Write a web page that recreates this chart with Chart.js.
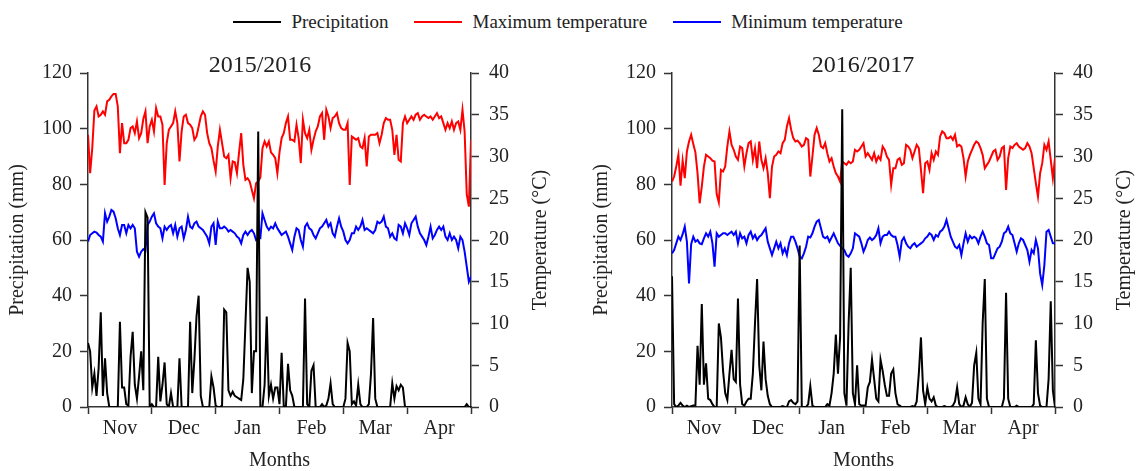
<!DOCTYPE html>
<html>
<head>
<meta charset="utf-8">
<title>Precipitation and temperature, 2015/2016 and 2016/2017</title>
<script src="https://cdn.jsdelivr.net/npm/chart.js@4.4.1/dist/chart.umd.min.js"></script>
<style>
  html, body { margin: 0; padding: 0; background: #fff; }
  body { width: 1136px; height: 471px; position: relative; overflow: hidden;
         font-family: "Liberation Serif", "Times New Roman", serif; color: #222; }
  #legend { position: absolute; top: 10px; left: 0; width: 1136px; display: flex;
            justify-content: center; align-items: center; font-size: 19px; line-height: 24px; }
  .item { display: flex; align-items: center; margin: 0 13px; }
  .swatch { width: 48px; height: 2px; margin-right: 10px; }
  .panel { position: absolute; top: 40px; height: 431px; }
  #p1 { left: 0; width: 580px; }
  #p2 { left: 584px; width: 552px; }
</style>
</head>
<body>
<div id="legend"></div>
<div class="panel" id="p1"><canvas id="c1"></canvas></div>
<div class="panel" id="p2"><canvas id="c2"></canvas></div>
<script>
// daily values, 1 Nov .. 30 Apr (month ticks drawn every 30 days)
const months = ['Nov', 'Dec', 'Jan', 'Feb', 'Mar', 'Apr'];
const daysPerMonth = 30;
const seriesNames = ['Precipitation', 'Maximum temperature', 'Minimum temperature'];
const seriesColors = ['#000000', '#ff0000', '#0000ff'];

// 2015/2016
const rain2015 = [
  23, 20, 7, 12, 4, 14, 34, 4, 17.5, 5,
  0, 0, 0, 0, 0, 30.6, 7, 7, 1, 0.5,
  18, 27, 8, 3, 11, 20, 6, 70, 68, 0,
  1, 0, 0, 18, 2, 8, 16, 1, 0, 5,
  0, 0, 0, 17.5, 0, 0, 0, 0, 30.6, 5,
  17, 32.5, 40, 4, 0, 0, 0, 0, 11, 7,
  0.5, 0, 0, 0.5, 35, 34, 6, 4, 5.5, 4,
  3.5, 3, 2.5, 10, 30, 50, 45, 5, 20, 20,
  99, 0, 0, 8, 32.5, 4, 8, 3, 7, 7,
  1, 19.5, 0.5, 0, 15.5, 6, 4, 0, 0, 0,
  0, 0, 39, 1, 0, 13, 15, 0, 0, 0,
  1, 0, 0.5, 3, 8.5, 1, 0, 0, 0, 0,
  0, 3, 23, 20, 1, 2, 0.5, 8, 1, 0,
  0, 0, 1, 12, 32, 3, 0, 0, 0, 0,
  0, 0, 0, 8.5, 3, 7.5, 6, 8, 7, 0,
  0, 0, 0, 0, 0, 0, 0, 0, 0, 0,
  0, 0, 0, 0, 0, 0, 0, 0, 0, 0,
  0, 0, 0, 0, 0, 0, 0, 0, 1, 0, 0
];
const tmax2015 = [
  32.6, 28, 31, 35.5, 36, 34.8, 35, 35.4, 35, 36.6,
  36.8, 37.2, 37.5, 37.5, 36, 30.4, 34, 31.6, 31.6, 32,
  33.4, 33.6, 32.8, 34.2, 32.2, 32.8, 34.5, 35.4, 31.6, 33.6,
  34.4, 33, 35.8, 34.8, 34.8, 33.8, 26.6, 31.6, 33.2, 33.6,
  34, 35.4, 34, 29.4, 33, 34.8, 35, 34, 33.8, 33.4,
  32, 32.4, 33.6, 34.8, 35.4, 35, 32.8, 31.6, 31, 29.5,
  28.2, 31.2, 33.2, 31.6, 30, 29.8, 30.2, 27.4, 29.4, 29.3,
  28, 30.5, 32.8, 29, 27.2, 27.4, 27, 26, 25, 26.8,
  27, 27.5, 31, 31.8, 31.2, 31.8, 30.5, 30.2, 29.8, 28,
  30.5, 32.2, 32.8, 34, 34.8, 32, 32, 31.8, 33.8, 32.2,
  29.2, 34.4, 32.8, 32.2, 33.2, 30.8, 32, 33, 33.6, 34.8,
  35.2, 32, 35.6, 34.8, 33.4, 34.6, 34.8, 35.2, 34, 33.4,
  33.2, 33.2, 34, 26.6, 32.4, 32.2, 32, 32.2, 31.2, 31,
  32.2, 28.8, 32.4, 32.6, 32.6, 32.6, 32.8, 31.6, 32.6, 34,
  34.6, 34.4, 34.4, 33.2, 30.2, 32.6, 29.6, 29.4, 34, 34.8,
  34, 34.4, 34.8, 34.4, 35, 35.2, 34.4, 34.8, 35, 34.8,
  34.6, 34.8, 34.4, 34.8, 35.2, 34.6, 34.8, 34, 33.2, 34,
  33.4, 34.2, 33.2, 34, 34.2, 33.2, 35.6, 33, 25.5, 24, 32
];
const tmin2015 = [
  19.8, 20.6, 20.8, 21, 20.9, 20.6, 20.4, 19.8, 23.2, 22.2,
  22.8, 23.6, 23.4, 22.6, 21.4, 20.6, 21.8, 21.8, 20.8, 21.8,
  21.4, 21.8, 21.4, 18.6, 18, 18.6, 18.9, 18.7, 21.8, 22.2,
  22.8, 23.2, 22, 21.6, 21.4, 20.2, 21.6, 21.2, 21.6, 21.8,
  20.8, 21.8, 20.4, 21.4, 21.6, 20.2, 21.2, 22.8, 21.6, 21.4,
  22, 22.2, 21.6, 21.4, 21.2, 20.8, 20.4, 19.6, 21.6, 22,
  19.4, 22.2, 21.4, 21.4, 21.6, 21.4, 21, 21.2, 21, 20.8,
  20.4, 20.2, 19.6, 20.6, 21, 20.6, 21, 21.2, 20.8, 20,
  20.2, 20.2, 23.2, 22.4, 21.6, 21.2, 21.6, 21.4, 22, 21.4,
  21, 20.6, 20.8, 21, 20.4, 19.6, 18.8, 20.4, 21.4, 21.2,
  20, 19.2, 21.6, 22, 21.4, 21.2, 20.6, 20.2, 20.8, 21.4,
  21.6, 22, 22.4, 21.6, 22, 20.8, 20.4, 21.6, 22.6, 21.6,
  21, 20, 19.6, 20, 20.8, 20.8, 21.6, 21.2, 21.6, 22.4,
  21.2, 21.4, 21.2, 21, 20.8, 21.2, 22.2, 22, 22.2, 22.8,
  21.6, 21.4, 20.4, 20.8, 20.2, 20, 21.8, 21.6, 20.8, 22,
  21.4, 20.6, 22, 22.4, 22.8, 21.6, 20.8, 20.4, 20, 19.4,
  20.4, 21.6, 20.2, 20.6, 21.2, 21.6, 21.2, 21.6, 20.4, 20,
  20.8, 20, 20.4, 20, 19, 20.4, 20, 18.6, 16.8, 15, 15.6
];

// 2016/2017
const rain2016 = [
  47, 1, 0, 0.5, 1.5, 0.5, 0, 0.5, 0, 0.3,
  0.5, 0.5, 22, 8, 37, 8, 15.7, 3, 2.5, 1,
  0, 0, 30, 25, 13, 5, 2.5, 12, 20.5, 10,
  9, 39, 8, 1, 0.5, 2, 3, 3, 12, 30,
  46, 15, 6, 23.5, 10, 4, 1, 0, 0, 0,
  0, 0, 0.3, 0, 0, 2, 2.5, 1.5, 1, 2,
  58, 0, 0, 0, 1, 7.5, 0.5, 0, 0, 0,
  0, 0, 0, 1, 0.5, 5, 12, 26, 12, 25,
  107, 5, 0.5, 30, 50, 5, 1, 15, 1, 0.5,
  0.5, 0.5, 7, 9, 17, 10, 3, 2, 17, 13,
  8, 4, 4, 12, 13.5, 5, 1, 0.5, 0, 0,
  0, 0, 0, 0.3, 0, 2, 12, 25, 6, 1,
  7, 3, 2, 3.5, 0.5, 0, 0, 0, 0.3, 0,
  0, 0, 0.5, 2, 7, 1, 0, 0.5, 3.5, 1,
  0, 1.5, 15, 19.5, 3, 1, 30, 46, 3, 0,
  0, 0, 0, 0, 0, 0, 3, 41, 3, 0,
  0, 0, 0.5, 0, 0, 0, 0, 0, 0, 0,
  1, 24, 5, 0.5, 0, 0, 0, 10, 38, 6, 0
];
const tmax2016 = [
  27, 27.6, 28.8, 30.2, 26.5, 29.5, 27.4, 30.6, 31.8, 32.6,
  31.5, 30.5, 28, 24.4, 26.4, 28.8, 30.2, 30, 29.8, 29.5,
  29.4, 25.5, 24.5, 28.4, 28.2, 28.8, 31.2, 33, 31.4, 30.8,
  30, 29.6, 31.2, 31, 28.8, 30.4, 31.6, 31.8, 29.6, 31,
  28.6, 31.8, 29.6, 28.6, 29.8, 28, 25, 28.8, 30, 30.2,
  30.6, 30.4, 31.6, 32, 33.6, 34.6, 33.2, 32.2, 31.8, 31.9,
  31.6, 31.2, 31.4, 32.2, 32, 27.6, 30, 32.6, 33.4, 32.6,
  31.2, 31, 31.6, 30.4, 29.4, 29.8, 28.8, 28, 27.6, 27,
  29.4, 29.2, 29, 29.4, 29.2, 29.4, 30.8, 30.6, 30.8, 31.2,
  31.6, 30, 30.4, 30, 29.6, 30.4, 29.4, 30, 29.6, 31.2,
  30.8, 30, 29.6, 26.6, 28.6, 28.6, 29.6, 29.8, 29, 29.2,
  31.4, 31.2, 30.8, 29.8, 30.6, 31.4, 31, 28.4, 25.6, 29.2,
  29.4, 28.4, 30.4, 29.6, 30.6, 30.2, 32.4, 33, 32.8, 32.2,
  32.2, 32.4, 32, 32.6, 31.2, 31.4, 31.2, 29.8, 27.6, 29.4,
  30.2, 30.8, 31.4, 31.8, 31.6, 31, 30.2, 28.6, 29, 29.4,
  30, 30.6, 30.8, 29.6, 30, 31, 31.2, 26, 29.8, 31.2,
  31, 31.4, 31.6, 31.2, 31, 30.8, 31, 31.6, 31.2, 30.4,
  28.6, 26.8, 25.2, 28, 29.2, 31.4, 30.8, 31.8, 29.6, 27.4, 29.8
];
const tmin2016 = [
  18.4, 18.8, 19.6, 20.4, 20, 20.7, 21.6, 19.8, 14.8, 19.5,
  20.4, 19.8, 20, 19.6, 19.5, 20.2, 20.8, 20.4, 21, 19.6,
  16.8, 20.8, 20.4, 20.6, 20.8, 20.8, 20.6, 20.8, 21, 20.6,
  21, 19.6, 20.8, 20.2, 20.4, 19.6, 20.6, 21, 20.2, 20.6,
  20, 20.4, 20.6, 21, 21.4, 19.8, 19, 18.2, 19, 19.8,
  19, 19.6, 18.4, 19, 18.2, 19.6, 20.4, 20.4, 19.8, 19,
  18, 17.8, 18.4, 19.2, 20.4, 20.3, 20.8, 21.6, 22.2, 22.4,
  21.4, 20.4, 20.2, 20.4, 19.8, 20.3, 20.8, 20.2, 19.6, 19.3,
  19, 18.8, 18.2, 18, 18.4, 19, 20.8, 20.6, 20.4, 19.6,
  18.6, 19.2, 20, 20.3, 20, 20.2, 20.6, 21.4, 19.6, 20.4,
  20.6, 20.6, 21, 20.6, 20.4, 20.4, 19.4, 18, 19.9, 20.3,
  19.6, 19.2, 19, 19.4, 19.6, 19.2, 19.4, 19.6, 19.8, 20.2,
  20.4, 20.8, 20.6, 20, 20.6, 20.4, 21, 21.2, 21.6, 22.4,
  21.4, 20.4, 19.8, 19.2, 19, 19.4, 18.2, 19.6, 20.8, 19.8,
  20.5, 20.2, 20.4, 20.2, 19.6, 20.4, 21, 20.4, 19.6, 19.4,
  17.8, 17.8, 18.4, 19, 19.2, 19.8, 20.8, 21, 21.6, 20.8,
  20.6, 19.6, 18.6, 19.6, 20.2, 20, 19.4, 18.8, 17.4, 18.8,
  18.4, 20, 19, 16, 14.6, 17, 21, 21.2, 20.4, 19.6, 19.6
];

const fontFamily = '"Liberation Serif", "Times New Roman", serif';
const textColor = '#222';
const axisColor = '#333';

// legend shared by both panels
const legend = document.getElementById('legend');
seriesNames.forEach((name, i) => {
  const item = document.createElement('div');
  item.className = 'item';
  const sw = document.createElement('span');
  sw.className = 'swatch';
  sw.style.background = seriesColors[i];
  const label = document.createElement('span');
  label.textContent = name;
  item.appendChild(sw);
  item.appendChild(label);
  legend.appendChild(item);
});

// panel title and right-hand axis title (reads bottom to top)
const panelText = {
  id: 'panelText',
  afterDraw(chart, args, opts) {
    const { ctx, chartArea } = chart;
    ctx.save();
    ctx.fillStyle = textColor;
    ctx.textAlign = 'center';
    ctx.textBaseline = 'middle';
    ctx.font = '24px ' + fontFamily;
    ctx.fillText(opts.title, chartArea.left + opts.titleOffset, chartArea.top - 7);
    ctx.font = '20px ' + fontFamily;
    ctx.translate(chartArea.right + 70, (chartArea.top + chartArea.bottom) / 2);
    ctx.rotate(-Math.PI / 2);
    ctx.fillText('Temperature (°C)', 0, 0);
    ctx.restore();
  }
};

const toPoints = arr => arr.map((v, i) => ({ x: i, y: v }));
const xEnd = months.length * daysPerMonth;

function makeChart(canvasId, title, titleOffset, rightWidth, rain, tmax, tmin) {
  const series = [rain, tmax, tmin];
  return new Chart(document.getElementById(canvasId), {
    type: 'line',
    data: {
      datasets: series.map((s, i) => ({
        label: seriesNames[i],
        data: toPoints(s),
        yAxisID: i === 0 ? 'y' : 'y2',
        borderColor: seriesColors[i],
        borderWidth: 2,
        pointRadius: 0,
        tension: 0,
        fill: false
      }))
    },
    options: {
      responsive: true,
      maintainAspectRatio: false,
      animation: false,
      layout: { padding: { top: 33, left: 0, right: 0, bottom: 0 } },
      plugins: {
        legend: { display: false },
        tooltip: { enabled: false },
        panelText: { title: title, titleOffset: titleOffset }
      },
      scales: {
        x: {
          type: 'linear',
          min: 0,
          max: xEnd,
          afterBuildTicks: axis => {
            const vals = [];
            for (let i = 0; i <= months.length; i++) {
              vals.push(i * daysPerMonth);
              if (i < months.length) vals.push(i * daysPerMonth + daysPerMonth / 2);
            }
            axis.ticks = vals.map(v => ({ value: v }));
          },
          afterFit: s => { s.height = 64; },
          ticks: {
            autoSkip: false,
            maxRotation: 0,
            padding: 3,
            color: textColor,
            font: { family: fontFamily, size: 20 },
            callback: v => (v % daysPerMonth === daysPerMonth / 2) ? months[(v - daysPerMonth / 2) / daysPerMonth] : ''
          },
          grid: {
            drawOnChartArea: false,
            tickLength: 7,
            tickWidth: 1.5,
            tickColor: c => (c.tick && c.tick.value % daysPerMonth === 0) ? axisColor : 'rgba(0,0,0,0)'
          },
          border: { display: true, color: axisColor, width: 1.5 },
          title: {
            display: true,
            text: 'Months',
            color: textColor,
            font: { family: fontFamily, size: 20, lineHeight: 1 },
            padding: { top: 0, bottom: 0 }
          }
        },
        y: {
          position: 'left',
          min: 0,
          max: 120,
          afterFit: s => { s.width = 88; },
          ticks: {
            stepSize: 20,
            padding: 8,
            color: textColor,
            font: { family: fontFamily, size: 20 }
          },
          grid: { drawOnChartArea: false, tickLength: 8, tickWidth: 1.5, tickColor: axisColor },
          border: { display: true, color: axisColor, width: 1.5 },
          title: {
            display: true,
            text: 'Precipitation (mm)',
            color: textColor,
            font: { family: fontFamily, size: 20, lineHeight: 1.2 },
            padding: { top: 6, bottom: 0 }
          }
        },
        y2: {
          position: 'right',
          min: 0,
          max: 40,
          afterFit: s => { s.width = rightWidth; },
          ticks: {
            stepSize: 5,
            padding: 10,
            color: textColor,
            font: { family: fontFamily, size: 20 }
          },
          grid: { drawOnChartArea: false, tickLength: 8, tickWidth: 1.5, tickColor: axisColor },
          border: { display: true, color: axisColor, width: 1.5 }
        }
      }
    },
    plugins: [panelText]
  });
}

makeChart('c1', '2015/2016', 172, 109, rain2015, tmax2015, tmin2015);
makeChart('c2', '2016/2017', 191, 81, rain2016, tmax2016, tmin2016);
</script>
</body>
</html>
